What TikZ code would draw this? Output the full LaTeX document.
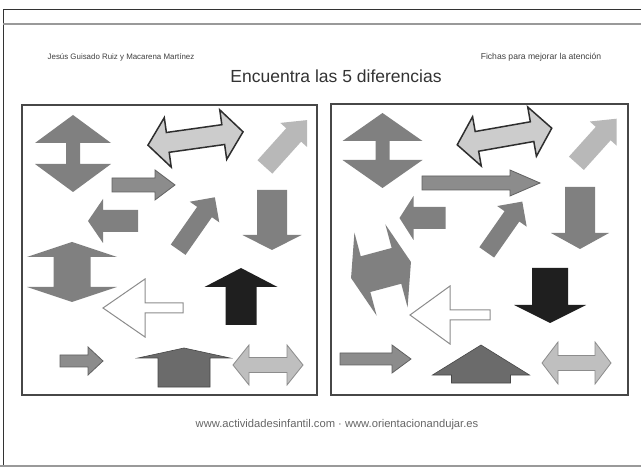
\documentclass[tikz,border=0pt]{standalone}
\usepackage{fontspec}
\setmainfont{Liberation Sans}

% flechas centradas en el origen: largo / grosor del cuerpo / ancho de la punta / largo de la punta
\tikzset{
  pics/flecha/.style n args={4}{code={
    \path[pic actions] (-#1/2,-#2/2) -- (#1/2-#4,-#2/2) -- (#1/2-#4,-#3/2) -- (#1/2,0)
      -- (#1/2-#4,#3/2) -- (#1/2-#4,#2/2) -- (-#1/2,#2/2) -- cycle;
  }},
  pics/doble/.style n args={4}{code={
    \path[pic actions] (-#1/2,0) -- (-#1/2+#4,-#3/2) -- (-#1/2+#4,-#2/2) -- (#1/2-#4,-#2/2)
      -- (#1/2-#4,-#3/2) -- (#1/2,0) -- (#1/2-#4,#3/2) -- (#1/2-#4,#2/2)
      -- (-#1/2+#4,#2/2) -- (-#1/2+#4,#3/2) -- cycle;
  }},
}

\begin{document}
\begin{tikzpicture}[x=1pt, y=-1pt,
    caja/.style={draw=black!72, line width=2pt},
    borde/.style={draw=black!80, line width=1pt},
    raya/.style={draw=black!40, line width=2pt},
    medio/.style={fill=black!50},
    contorno/.style={fill=black!45, draw=black!62, line width=0.8pt},
    claro/.style={fill=black!20, draw=black!82, line width=1.5pt},
    palido/.style={fill=black!28},
    blanca/.style={fill=white, draw=black!45, line width=1pt},
    negra/.style={fill=black!88},
    oscuro/.style={fill=black!58, draw=black!72, line width=0.6pt},
    suave/.style={fill=black!25, draw=black!45, line width=0.8pt},
    titulo/.style={font=\fontsize{17.5}{20}\selectfont, text=black!80},
    cabecera/.style={font=\fontsize{7.9}{9}\selectfont, text=black!75},
    pie/.style={font=\fontsize{11.2}{13}\selectfont, text=black!60},
  ]
  \fill[white] (0,0) rectangle (641,476);
  \useasboundingbox (0,0) rectangle (641,476);

  % marco de la hoja
  \draw[borde] (3,466) -- (3,10) -- (641,10);
  \draw[raya] (3,24) -- (641,24);
  \draw[raya] (0,466) -- (641,466);

  % textos
  \node[cabecera] (autores) at (121,57) {Jesús Guisado Ruiz y Macarena Martínez};
  \node[cabecera, font=\fontsize{8.6}{9}\selectfont] (fichas) at (541,57) {Fichas para mejorar la atención};
  \node[titulo] (titulo) at (336,76) {Encuentra las 5 diferencias};
  \node[pie] (web) at (337,425) {www.actividadesinfantil.com · www.orientacionandujar.es};

  % cuadros
  \draw[caja] (22,105) rectangle (317,395);
  \draw[caja] (331,104) rectangle (628,395);

  % cuadro izquierdo
  \pic[medio, rotate=90] at (73,153.5) {doble={77}{14}{76}{28}};
  \pic[claro, rotate=8] at (195.5,138.5) {doble={96}{20}{50}{20}};
  \pic[palido, rotate=48] at (286,143.5) {flecha={63}{20}{36}{20}};
  \pic[contorno] at (143.5,185) {flecha={63}{14}{30}{20}};
  \pic[medio, rotate=180] at (113,221) {flecha={50}{22}{44}{15}};
  \pic[medio, rotate=55] at (196.5,223.5) {flecha={64}{18}{36}{18}};
  \pic[medio, rotate=-90] at (272,220) {flecha={60}{30}{59}{15}};
  \pic[medio, rotate=90] at (72,272) {doble={60}{37}{90}{15}};
  \pic[blanca, rotate=180] at (143,308) {flecha={80}{10}{58}{42}};
  \pic[negra, rotate=90] at (241,296.5) {flecha={57}{31}{73}{19}};
  \pic[contorno] at (81.5,361) {flecha={43}{12}{28}{15}};
  \pic[oscuro, rotate=90] at (184,367.5) {flecha={39}{52}{92}{10}};
  \pic[suave] at (268,365) {doble={70}{15}{40}{16}};

  % cuadro derecho
  \pic[medio, rotate=90] at (382.5,150.5) {doble={75}{14}{80}{28}};
  \pic[claro, rotate=10] at (504.5,136.5) {doble={96}{20}{50}{20}};
  \pic[palido, rotate=48] at (596.5,141) {flecha={60}{20}{36}{20}};
  \pic[contorno] at (481,183) {flecha={118}{14}{26}{30}};
  \pic[medio, rotate=180] at (422.5,218) {flecha={46}{22}{44}{14}};
  \pic[medio, rotate=55] at (504.5,227) {flecha={62}{18}{36}{18}};
  \pic[medio, rotate=-90] at (580,218) {flecha={62}{30}{58}{16}};
  \pic[medio, rotate=15] at (381,270) {doble={62}{37}{86}{15}};
  \pic[blanca, rotate=180] at (450,315) {flecha={80}{10}{58}{40}};
  \pic[negra, rotate=-90] at (550,295.5) {flecha={55}{36}{72}{18}};
  \pic[contorno] at (375.5,359) {flecha={71}{12}{28}{19}};
  \pic[oscuro, rotate=90] at (481,364) {flecha={38}{59}{97}{30}};
  \pic[suave] at (576.5,363) {doble={69}{15}{42}{16}};
\end{tikzpicture}
\end{document}
